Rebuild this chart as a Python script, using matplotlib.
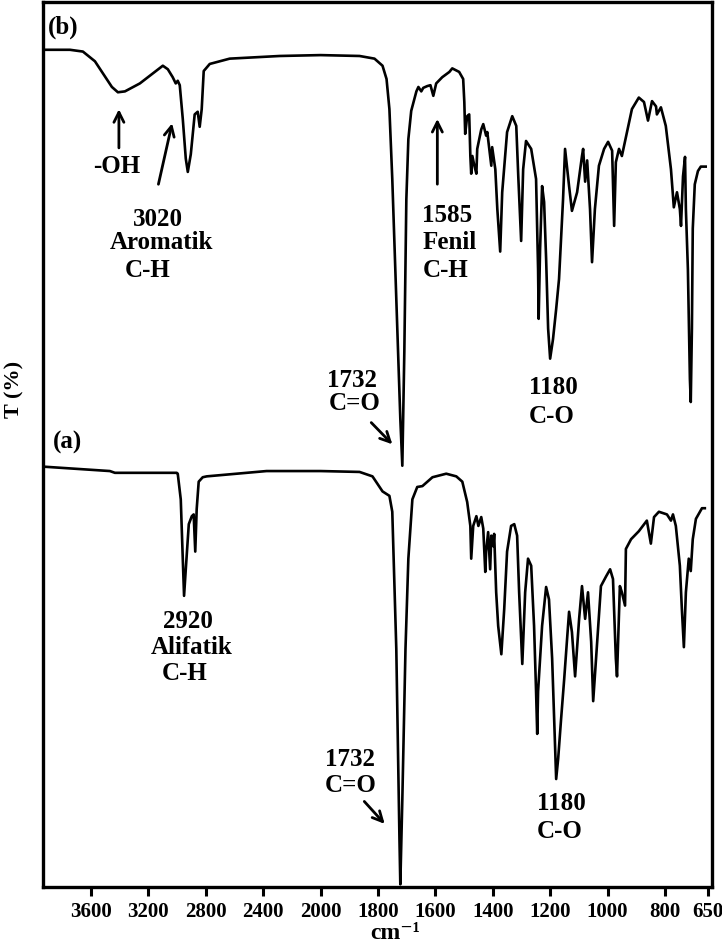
import numpy as np
import matplotlib
matplotlib.use("Agg")
import matplotlib.pyplot as plt

# FTIR spectra, wavenumber (cm-1) vs transmittance (arbitrary, offset traces)
wn_b = [3934, 3746, 3656, 3572, 3503, 3454, 3412, 3363, 3259, 3155, 3099, 3064,
        3030, 3009, 2995, 2981, 2960, 2939, 2925, 2904, 2877, 2856, 2842, 2828,
        2814, 2772, 2633, 2285, 2000, 1864, 1812, 1784, 1770, 1760, 1750, 1736,
        1722, 1715, 1708, 1701, 1694, 1684, 1666, 1659, 1649, 1642, 1628, 1617,
        1607, 1597, 1576, 1551, 1541, 1517, 1503, 1499, 1496, 1489, 1482, 1478,
        1475, 1471, 1464, 1457, 1454, 1440, 1433, 1423, 1419, 1412, 1405, 1402,
        1391, 1384, 1374, 1367, 1350, 1332, 1318, 1311, 1301, 1294, 1284, 1266,
        1249, 1242, 1240, 1235, 1228, 1221, 1214, 1207, 1200, 1190, 1179, 1169,
        1155, 1148, 1134, 1124, 1106, 1089, 1085, 1078, 1071, 1061, 1054, 1044,
        1030, 1012, 998, 984, 977, 971, 960, 950, 932, 915, 891, 873,
        859, 845, 831, 828, 814, 797, 779, 769, 758, 748, 744, 737,
        730, 727, 720, 713, 710, 706, 703, 696, 685, 675, 658]
t_b = [94.6, 94.6, 94.4, 93.3, 91.6, 90.4, 89.8, 89.9, 90.8, 92.1, 92.8, 92.4,
       91.5, 90.8, 91.1, 90.6, 86.8, 82.3, 80.8, 82.8, 87.3, 87.6, 85.9, 87.9,
       92.2, 93.0, 93.6, 93.9, 94.0, 93.9, 93.6, 92.8, 91.3, 87.9, 80.0, 66.4,
       52.9, 47.6, 60.5, 77.7, 84.5, 87.7, 89.9, 90.4, 89.9, 90.3, 90.5, 90.6,
       89.4, 90.8, 91.5, 92.1, 92.5, 92.1, 91.3, 88.7, 85.1, 87.1, 87.3, 82.6,
       80.6, 82.6, 81.5, 80.6, 83.4, 85.6, 86.2, 84.9, 85.3, 83.4, 81.5, 83.6,
       81.1, 76.6, 71.8, 78.5, 85.3, 87.1, 86.0, 80.3, 73.0, 81.1, 84.3, 83.4,
       80.0, 69.8, 64.2, 72.1, 79.2, 77.4, 71.0, 63.1, 59.7, 61.9, 65.3, 68.7,
       77.7, 83.4, 79.2, 76.4, 78.5, 82.6, 83.4, 79.7, 82.1, 76.6, 70.6, 76.6,
       81.5, 83.4, 84.2, 83.2, 74.7, 81.9, 83.4, 82.6, 85.3, 87.9, 89.2, 88.7,
       86.6, 88.8, 88.2, 87.3, 88.1, 86.0, 81.1, 76.8, 78.5, 76.6, 74.7, 80.3,
       82.5, 76.6, 69.8, 57.4, 54.8, 63.1, 74.4, 79.4, 80.9, 81.4, 81.4]

wn_a = [3934, 3468, 3433, 3002, 2995, 2974, 2960, 2951, 2939, 2918, 2897, 2884,
        2873, 2863, 2849, 2821, 2793, 2376, 2000, 1864, 1819, 1784, 1760, 1750,
        1736, 1725, 1722, 1715, 1704, 1694, 1680, 1663, 1645, 1610, 1562, 1527,
        1506, 1489, 1478, 1475, 1468, 1457, 1450, 1440, 1433, 1426, 1423, 1416,
        1409, 1405, 1398, 1395, 1388, 1381, 1370, 1360, 1350, 1336, 1325, 1315,
        1308, 1297, 1287, 1277, 1266, 1256, 1249, 1245, 1242, 1228, 1214, 1204,
        1193, 1186, 1179, 1172, 1162, 1151, 1141, 1134, 1124, 1113, 1099, 1089,
        1078, 1068, 1057, 1050, 1040, 1023, 1005, 991, 981, 971, 967, 957,
        950, 939, 936, 918, 891, 863, 849, 838, 821, 793, 779, 772,
        762, 748, 741, 734, 727, 717, 710, 703, 692, 671, 661]
t_a = [47.5, 47.0, 46.8, 46.8, 46.7, 43.8, 37.1, 32.9, 35.9, 41.0, 41.9, 42.1,
       37.9, 42.7, 45.8, 46.3, 46.4, 47.0, 47.0, 46.9, 46.4, 44.7, 44.2, 42.4,
       26.9, 5.4, 0.3, 9.9, 26.9, 37.1, 43.8, 45.2, 45.3, 46.3, 46.7, 46.4,
       45.8, 43.5, 40.8, 37.1, 40.8, 41.9, 40.8, 41.8, 40.5, 35.6, 37.9, 40.1,
       35.9, 39.7, 38.5, 39.9, 33.3, 29.5, 26.3, 31.4, 37.9, 40.8, 41.0, 39.7,
       33.3, 25.2, 33.3, 37.1, 36.3, 29.5, 22.1, 17.3, 22.1, 29.5, 33.9, 32.5,
       25.8, 19.0, 12.2, 14.5, 18.9, 23.5, 28.0, 31.1, 28.8, 23.8, 30.3, 34.0,
       30.3, 33.3, 27.7, 21.0, 25.8, 34.0, 35.1, 35.9, 34.8, 25.8, 23.8, 34.0,
       33.3, 31.8, 38.2, 39.3, 40.2, 41.4, 38.8, 41.8, 42.4, 42.1, 41.4, 42.1,
       40.8, 36.3, 31.4, 27.1, 33.3, 37.1, 35.7, 39.3, 41.6, 42.8, 42.8]

x_ticks = [3600, 3200, 2800, 2400, 2000, 1800, 1600, 1400, 1200, 1000, 800, 650]


# scale change at 2000 cm-1 (upper range compressed by 2)
def fwd(x):
    x = np.asarray(x, dtype=float)
    return np.where(x > 2000, 2000 + (x - 2000) / 2.0, x)


def inv(y):
    y = np.asarray(y, dtype=float)
    return np.where(y > 2000, 2000 + (y - 2000) * 2.0, y)


plt.rcParams['font.family'] = ['Liberation Serif', 'DejaVu Serif']
plt.rcParams['font.weight'] = 'bold'

fig = plt.figure(figsize=(7.22, 9.45), dpi=100)
ax = fig.add_axes([43 / 722, 57 / 945, 669 / 722, 885 / 945])

ax.plot(wn_b, t_b, color='black', lw=1.9, solid_joinstyle='round')
ax.plot(wn_a, t_a, color='black', lw=1.9, solid_joinstyle='round')

ax.set_xscale('function', functions=(fwd, inv))
ax.set_xlim(3934, 636)
ax.set_ylim(0, 100)
ax.set_xticks(x_ticks)
ax.set_xticklabels([str(t) for t in x_ticks], fontsize=15, fontweight='bold')
ax.minorticks_off()
ax.set_yticks([])
ax.tick_params(axis='x', direction='out', length=6.5, width=2.2, pad=3.5)
for s in ax.spines.values():
    s.set_linewidth(2.4)

ax.set_ylabel('T (%)', fontsize=16, fontweight='bold')
ax.yaxis.set_label_coords(-0.028, 0.563)
# x label sits just under the 1800/1600 tick labels
ax.text(0.527, -0.063, 'cm\u207b\u00b9', transform=ax.transAxes, ha='center',
        va='bottom', fontsize=17, fontweight='bold')

fs = 18
txt = dict(fontsize=fs, fontweight='bold', color='black', va='center')
arr = dict(arrowstyle='->', lw=2, color='black', mutation_scale=18)

# panel (b)
ax.text(3899, 97.2, '(b)', ha='left', **txt)
ax.annotate('', xy=(3405, 88.2), xytext=(3405, 83.2), arrowprops=arr)
ax.text(3419, 81.5, '-OH', ha='center', **txt)
ax.annotate('', xy=(3030, 86.6), xytext=(3134, 79.1), arrowprops=arr)
ax.text(3134, 75.5, '3020', ha='center', **txt)
ax.text(3106, 72.9, 'Aromatik', ha='center', **txt)
ax.text(3204, 69.8, 'C-H', ha='center', **txt)
ax.annotate('', xy=(1593, 87.1), xytext=(1593, 79.1), arrowprops=arr)
ax.text(1645, 76.0, '1585', ha='left', **txt)
ax.text(1645, 72.9, 'Fenil', ha='left', **txt)
ax.text(1645, 69.8, 'C-H', ha='left', **txt)
ax.text(1892, 57.4, '1732', ha='center', **txt)
ax.text(1882, 54.8, 'C=O', ha='center', **txt)
ax.annotate('', xy=(1743, 49.8), xytext=(1830, 52.7), arrowprops=arr)
ax.text(1273, 56.5, '1180', ha='left', **txt)
ax.text(1273, 53.3, 'C-O', ha='left', **txt)

# panel (a)
ax.text(3864, 50.3, '(a)', ha='left', **txt)
ax.text(2925, 30.1, '2920', ha='center', **txt)
ax.text(2897, 27.2, 'Alifatik', ha='center', **txt)
ax.text(2946, 24.2, 'C-H', ha='center', **txt)
ax.text(1899, 14.5, '1732', ha='center', **txt)
ax.text(1896, 11.6, 'C=O', ha='center', **txt)
ax.annotate('', xy=(1770, 6.9), xytext=(1854, 9.9), arrowprops=arr)
ax.text(1245, 9.6, '1180', ha='left', **txt)
ax.text(1245, 6.4, 'C-O', ha='left', **txt)

fig.savefig('out.png', dpi=100)
